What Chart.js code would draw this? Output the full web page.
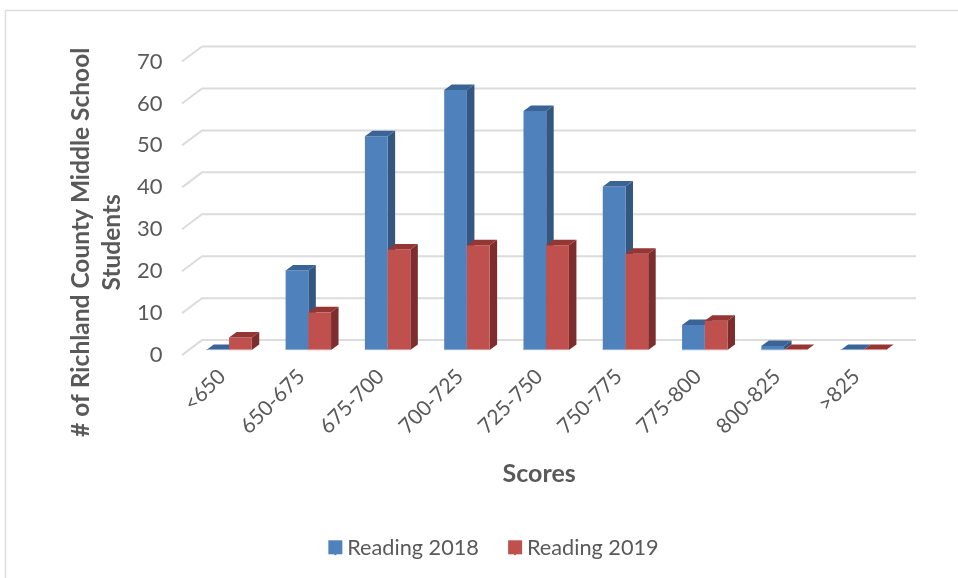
<!DOCTYPE html>
<html><head><meta charset="utf-8">
<style>html,body{margin:0;padding:0;background:#fff}#w{position:absolute;left:0;top:0;width:958px;height:578px}</style>
<script src="https://cdn.jsdelivr.net/npm/chart.js@4"></script>
</head><body><div id="w"><canvas id="c"></canvas></div>
<script>
const categories = ['<650','650-675','675-700','700-725','725-750','750-775','775-800','800-825','>825'];
const reading2018 = [0,19,51,62,57,39,6,1,0];
const reading2019 = [3,9,24,25,25,23,7,0,0];
const yTitleLines = ['# of Richland County Middle School','Students'];
const FONT = 'Lato';
const TEXT = '#595959';
const GRID = '#DCDCDC';
const shades = [{front:'#4F81BD',side:'#335781',top:'#3A6396',edge:'#8FB0D8'},
                {front:'#C0504D',side:'#7D2E2C',top:'#943633',edge:'#DB9A98'}];
const DX = 7.5, DY = 5.5;

function poly(ctx, pts, fill){
  ctx.beginPath(); pts.forEach((p,i)=> i?ctx.lineTo(p[0],p[1]):ctx.moveTo(p[0],p[1]));
  ctx.closePath(); ctx.fillStyle=fill; ctx.fill();
}
function shift(obj, name, dx, dy){
  const orig = obj[name];
  obj[name] = function(...a){ const ctx=this.ctx; ctx.save(); ctx.translate(dx,dy); const r=orig.apply(this,a); ctx.restore(); return r; };
}
const frame3d = {
  id:'frame3d',
  beforeDraw(chart){
    const {ctx, scales:{y}} = chart;
    ctx.save();
    ctx.strokeStyle='#DDDDDD'; ctx.lineWidth=1.5;
    ctx.beginPath(); ctx.moveTo(5.5,578); ctx.lineTo(5.5,10.5); ctx.lineTo(958,10.5); ctx.stroke();
    ctx.strokeStyle=GRID; ctx.lineWidth=2;
    y.ticks.forEach(t=>{
      const p=y.getPixelForValue(t.value);
      ctx.beginPath(); ctx.moveTo(182,p+5); ctx.lineTo(202,p-10); ctx.lineTo(916,p-10); ctx.stroke();
    });
    ctx.restore();
  },
  beforeDatasetsDraw(chart){
    const ctx=chart.ctx;
    [0,1].forEach(i=>{
      const s=shades[i];
      chart.getDatasetMeta(i).data.forEach(b=>{
        const {x,y,base,width}=b.getProps(['x','y','base','width'],true);
        const l=x-width/2, r=x+width/2;
        poly(ctx,[[r,y],[r+DX,y-DY],[r+DX,base-DY],[r,base]],s.side);
        b.draw(ctx);
        poly(ctx,[[l,y],[l+DX,y-DY],[r+DX,y-DY],[r,y]],s.top);
        ctx.fillStyle=s.edge; ctx.fillRect(l,base-1,width,1);
      });
    });
    return false;
  },
  afterDraw(chart){
    const ctx=chart.ctx, hb=chart.legend.legendHitBoxes;
    hb.forEach((h,i)=>{ ctx.fillStyle=shades[i].front; ctx.fillRect(h.left-6,h.top+3,14,14); });
  }
};
new Chart(document.getElementById('c'),{
  type:'bar',
  data:{labels:categories,datasets:[
    {label:'Reading 2018',data:reading2018,backgroundColor:shades[0].front,barPercentage:1,categoryPercentage:0.573},
    {label:'Reading 2019',data:reading2019,backgroundColor:shades[1].front,barPercentage:1,categoryPercentage:0.573}
  ]},
  plugins:[frame3d],
  options:{
    responsive:true,maintainAspectRatio:false,animation:false,
    layout:{padding:{left:90,right:55,top:56.5,bottom:9}},
    plugins:{
      tooltip:{enabled:false},
      legend:{position:'bottom',labels:{font:{family:FONT,size:21.7},color:TEXT,boxWidth:2,boxHeight:14,padding:35.2}}
    },
    scales:{
      x:{
        grid:{display:false,drawTicks:false},border:{display:false},
        ticks:{font:{family:FONT,size:21},color:TEXT,minRotation:45,maxRotation:45,padding:14,labelOffset:-7,autoSkip:false},
        title:{display:true,text:'Scores',font:{family:FONT,size:25,weight:'bold'},color:TEXT,padding:{top:8,bottom:0}},
        afterFit(s){ s.height=152; },
        afterUpdate(s){ if(!s._sh){s._sh=1; shift(s,'drawTitle',-7,-13);} }
      },
      y:{
        min:0,max:70,
        grid:{display:false,drawTicks:false},border:{display:false},
        ticks:{stepSize:10,font:{family:FONT,size:22},color:TEXT,padding:27,labelOffset:5},
        title:{display:true,text:yTitleLines,font:{family:FONT,size:24.5,weight:'bold',lineHeight:1.25},color:TEXT,padding:0},
        afterFit(s){ s.width=99.4; },
        afterUpdate(s){ if(!s._sh){s._sh=1; shift(s,'drawTitle',-24,39);} }
      }
    }
  }
});
</script></body></html>
